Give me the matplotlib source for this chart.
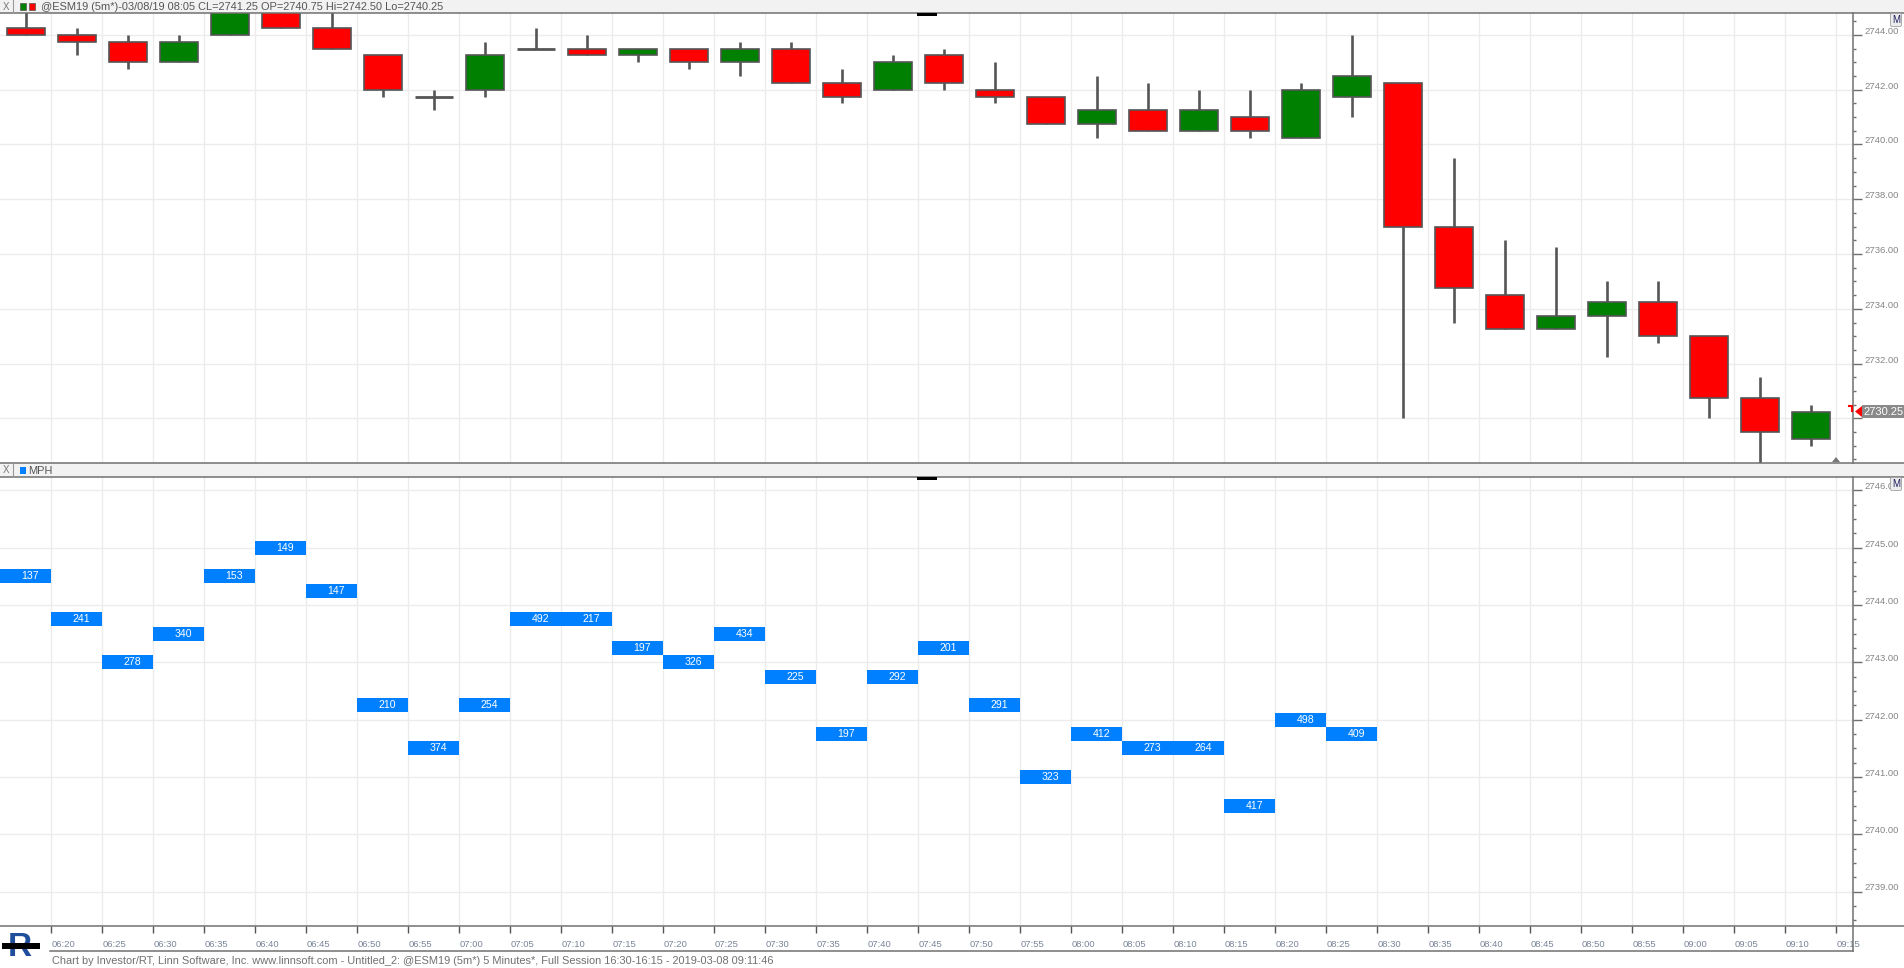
import matplotlib
matplotlib.use('Agg')
import matplotlib.pyplot as plt
from matplotlib.patches import Rectangle, Polygon
from matplotlib.lines import Line2D
from matplotlib.transforms import blended_transform_factory
import numpy as np

# ---------------- data ----------------
times = ['06:20', '06:25', '06:30', '06:35', '06:40', '06:45', '06:50', '06:55',
         '07:00', '07:05', '07:10', '07:15', '07:20', '07:25', '07:30', '07:35',
         '07:40', '07:45', '07:50', '07:55', '08:00', '08:05', '08:10', '08:15',
         '08:20', '08:25', '08:30', '08:35', '08:40', '08:45', '08:50', '08:55',
         '09:00', '09:05', '09:10', '09:15']

opens = [2744.25, 2744.00, 2743.75, 2743.00, 2744.00, 2745.00, 2744.25, 2743.25,
         2741.75, 2742.00, 2743.50, 2743.50, 2743.25, 2743.50, 2743.00, 2743.50,
         2742.25, 2742.00, 2743.25, 2742.00, 2741.75, 2740.75, 2741.25, 2740.50,
         2741.00, 2740.25, 2741.75, 2742.25, 2737.00, 2734.50, 2733.25, 2733.75,
         2734.25, 2733.00, 2730.75, 2729.25]
highs = [2745.00, 2744.25, 2744.00, 2744.00, 2745.25, 2745.25, 2745.00, 2743.25,
         2742.00, 2743.75, 2744.25, 2744.00, 2743.50, 2743.50, 2743.75, 2743.75,
         2742.75, 2743.25, 2743.50, 2743.00, 2741.75, 2742.50, 2742.25, 2742.00,
         2742.00, 2742.25, 2744.00, 2742.25, 2739.50, 2736.50, 2736.25, 2735.00,
         2735.00, 2733.00, 2731.50, 2730.50]
lows = [2744.00, 2743.25, 2742.75, 2743.00, 2744.00, 2744.25, 2743.50, 2741.75,
        2741.25, 2741.75, 2743.50, 2743.25, 2743.00, 2742.75, 2742.50, 2742.25,
        2741.50, 2742.00, 2742.00, 2741.50, 2740.75, 2740.25, 2740.50, 2740.50,
        2740.25, 2740.25, 2741.00, 2730.00, 2733.50, 2733.25, 2733.25, 2732.25,
        2732.75, 2730.00, 2728.25, 2729.00]
closes = [2744.00, 2743.75, 2743.00, 2743.75, 2745.00, 2744.25, 2743.50, 2742.00,
          2741.75, 2743.25, 2743.50, 2743.25, 2743.50, 2743.00, 2743.50, 2742.25,
          2741.75, 2743.00, 2742.25, 2741.75, 2740.75, 2741.25, 2740.50, 2741.25,
          2740.50, 2742.00, 2742.50, 2737.00, 2734.75, 2733.25, 2733.75, 2734.25,
          2733.00, 2730.75, 2729.50, 2730.25]

mph_labels = [137, 241, 278, 340, 153, 149, 147, 210, 374, 254, 492, 217, 197, 326,
              434, 225, 197, 292, 201, 291, 323, 412, 273, 264, 417, 498, 409]
mph_prices = [2744.50, 2743.75, 2743.00, 2743.50, 2744.50, 2745.00, 2744.25, 2742.25,
              2741.50, 2742.25, 2743.75, 2743.75, 2743.25, 2743.00, 2743.50, 2742.75,
              2741.75, 2742.75, 2743.25, 2742.25, 2741.00, 2741.75, 2741.50, 2741.50,
              2740.50, 2742.00, 2741.75]

price_ticks = [2730, 2732, 2734, 2736, 2738, 2740, 2742, 2744]
mph_ticks = [2739, 2740, 2741, 2742, 2743, 2744, 2745, 2746]
last_price = 2730.25

header_text = "@ESM19 (5m*)-03/08/19 08:05 CL=2741.25 OP=2740.75 Hi=2742.50 Lo=2740.25"
footer_text = ("Chart by Investor/RT, Linn Software, Inc. www.linnsoft.com - Untitled_2: "
               "@ESM19 (5m*) 5 Minutes*, Full Session 16:30-16:15 - 2019-03-08 09:11:46")

# ---------------- figure ----------------
W, H = 1904, 968
plt.rcParams['font.family'] = ['Liberation Sans', 'DejaVu Sans']
fig = plt.figure(figsize=(W / 100, H / 100), dpi=100)
fig.patch.set_facecolor('white')


def fx(px):
    return px / W


def fy(py):
    return 1 - py / H


AXR = 1853
TOP1, BOT1 = 13.3, 463.3
TOP2, BOT2 = 477.3, 926.0
ax1 = fig.add_axes([0, fy(BOT1), fx(AXR), (BOT1 - TOP1) / H])
ax2 = fig.add_axes([0, fy(BOT2), fx(AXR), (BOT2 - TOP2) / H])

GRID = '#ececec'
AXC = '#707070'
LBL = '#858585'

x = np.arange(len(opens))
tick_x = x + 0.5
xlim = (-0.506, 35.83)

for ax in (ax1, ax2):
    ax.set_xlim(*xlim)
    for s in ax.spines.values():
        s.set_visible(False)
    ax.set_xticks(tick_x)
    ax.grid(True, which='major', color=GRID, lw=1, zorder=0)
    ax.set_axisbelow(True)
    ax.yaxis.tick_right()
    ax.tick_params(axis='y', which='both', right=True, left=False, labelright=False,
                   labelleft=False, color=AXC, width=1)
    ax.tick_params(axis='y', which='major', length=6.5)
    ax.tick_params(axis='y', which='minor', length=2.2)

# ---------------- top: candlesticks ----------------
o = np.array(opens)
c = np.array(closes)
hi = np.array(highs)
lo = np.array(lows)
ax1.set_ylim(2728.36, 2744.79)
ax1.set_yticks(price_ticks)
ax1.set_yticks(np.arange(2728.5, 2745.0, 0.5), minor=True)
ax1.tick_params(axis='x', bottom=False, labelbottom=False)

ax1.vlines(x, lo, hi, color='#555555', lw=1.9, zorder=2)
body_col = np.where(c > o, '#008000', '#ff0000')
nz = c != o
ax1.bar(x[nz], np.abs(c - o)[nz], bottom=np.minimum(o, c)[nz], width=0.75,
        color=body_col[nz], edgecolor='#555555', linewidth=1.2, zorder=3)
ax1.hlines(o[~nz], x[~nz] - 0.375, x[~nz] + 0.375, color='#555555', lw=2.0, zorder=3)

tr1 = blended_transform_factory(ax1.transAxes, ax1.transData)
for v in price_ticks:
    if abs(v - last_price) < 0.6:
        continue  # hidden behind the last-price label in the original
    ax1.text(1864 / AXR, v + 0.04, f"{v:.2f}", transform=tr1, ha='left', va='baseline',
             fontsize=6.8, color=LBL, clip_on=False, zorder=1)

# ---------------- bottom: MPH ----------------
ax2.set_ylim(2738.40, 2746.23)
ax2.set_yticks(mph_ticks)
ax2.set_yticks(np.arange(2738.5, 2746.25, 0.25), minor=True)
xm = np.arange(len(mph_labels))
pm = np.array(mph_prices)
ax2.bar(xm, 0.245, bottom=pm - 0.1225, width=1.0, color='#0080ff', linewidth=0, zorder=3)
for xi, p, lab in zip(xm, pm, mph_labels):
    ax2.text(xi + 0.09, p, str(lab), color='white', fontsize=7.6, ha='center',
             va='center', zorder=4)

tr2 = blended_transform_factory(ax2.transAxes, ax2.transData)
for v in mph_ticks:
    ax2.text(1864 / AXR, v + 0.02, f"{v:.2f}", transform=tr2, ha='left', va='baseline',
             fontsize=6.8, color=LBL, clip_on=False, zorder=1)

ax2.set_xticklabels(times, ha='left')
ax2.tick_params(axis='x', bottom=True, length=5, width=1, color='#555555',
                labelsize=6.8, labelcolor='#7a8599', pad=5)

# ---------------- chrome: header bars, lines ----------------
def frect(x0, y0, x1, y1, **kw):
    fig.patches.append(Rectangle((fx(x0), fy(y1)), fx(x1 - x0), (y1 - y0) / H,
                                 transform=fig.transFigure, **kw))


def fline(x0, y0, x1, y1, **kw):
    fig.lines.append(Line2D([fx(x0), fx(x1)], [fy(y0), fy(y1)],
                            transform=fig.transFigure, **kw))


# header bars
frect(0, 0, W, TOP1, facecolor='#f2f2f2', edgecolor='none', zorder=0)
frect(0, BOT1, W, TOP2, facecolor='#f2f2f2', edgecolor='none', zorder=0)
for yy in (TOP1, BOT1, TOP2, BOT2):
    fline(0, yy, W, yy, color=AXC, lw=1.1)
# close boxes
for y0, y1 in ((0, TOP1), (BOT1, TOP2)):
    fline(13, y0, 13, y1, color='#9a9a9a', lw=0.8)
    fig.text(fx(6.5), fy((y0 + y1) / 2), 'X', fontsize=7, color='#777777',
             ha='center', va='center')
# top header icons + text
frect(20, 3.5, 25.5, 9.5, facecolor='#008000', edgecolor='#555555', lw=0.5)
frect(29, 3.5, 34.5, 9.5, facecolor='#ff0000', edgecolor='#555555', lw=0.5)
fig.text(fx(41), fy(7.0), header_text, fontsize=7.9, color='#555555', ha='left',
         va='center')
# MPH header
frect(20, 466.5, 26, 474, facecolor='#0080ff', edgecolor='none')
fig.text(fx(28), fy(471), 'MPH', fontsize=7.9, color='#555555', ha='left', va='center')
# small black handles at center
frect(917, TOP1, 937, TOP1 + 2.2, facecolor='black', edgecolor='none', zorder=5)
frect(917, TOP2, 937, TOP2 + 2.2, facecolor='black', edgecolor='none', zorder=5)

# right axis line
fline(AXR, TOP1, AXR, BOT1, color=AXC, lw=1.1)
fline(AXR, TOP2, AXR, 951, color=AXC, lw=1.1)
# footer line
fline(50, 951, AXR, 951, color=AXC, lw=1.1)

# M buttons
for yc in (20, 484):
    fig.text(fx(1896), fy(yc), 'M', fontsize=7, color='#1a1a5e', ha='center',
             va='center', zorder=6,
             bbox=dict(boxstyle='round,pad=0.15', facecolor='#ececec',
                       edgecolor='#a0a0a0', lw=0.6))

# last price marker
ylp = ax1.transData.transform((0, last_price))[1]
yfig = ylp / fig.dpi / fig.get_size_inches()[1]
fig.patches.append(Polygon([[fx(1855), yfig], [fx(1862), yfig + 5.5 / H],
                            [fx(1862), yfig - 5.5 / H]], closed=True,
                           transform=fig.transFigure, facecolor='#ff0000',
                           edgecolor='none', zorder=6))
fig.patches.append(Rectangle((fx(1862), yfig - 6.5 / H), fx(W - 1862), 13 / H,
                             transform=fig.transFigure, facecolor='#8a8a8a',
                             edgecolor='none', zorder=6))
fig.text(fx(1863), yfig, f"{last_price:.2f}", fontsize=8, color='white', ha='left',
         va='center', zorder=7)
fig.lines.append(Line2D([fx(1849), fx(1852), fx(1852)],
                        [yfig + 6 / H, yfig + 6 / H, yfig + 1 / H],
                        transform=fig.transFigure, color='#ff0000', lw=1.5))
# small triangle at the last tick
fig.patches.append(Polygon([[fx(1832), fy(462)], [fx(1840), fy(462)],
                            [fx(1836), fy(457)]], closed=True,
                           transform=fig.transFigure, facecolor='#777777',
                           edgecolor='none', zorder=6))

# footer
fig.text(fx(51.7), fy(961), footer_text, fontsize=7.9, color='#707070', ha='left',
         va='center')
fig.text(fx(20), fy(948), 'R', fontsize=24, fontweight='bold', color='#1f4e9c',
         ha='center', va='center')
frect(2, 943, 40, 949, facecolor='black', edgecolor='none', zorder=4)

fig.savefig('out.png', dpi=100, facecolor='white')
